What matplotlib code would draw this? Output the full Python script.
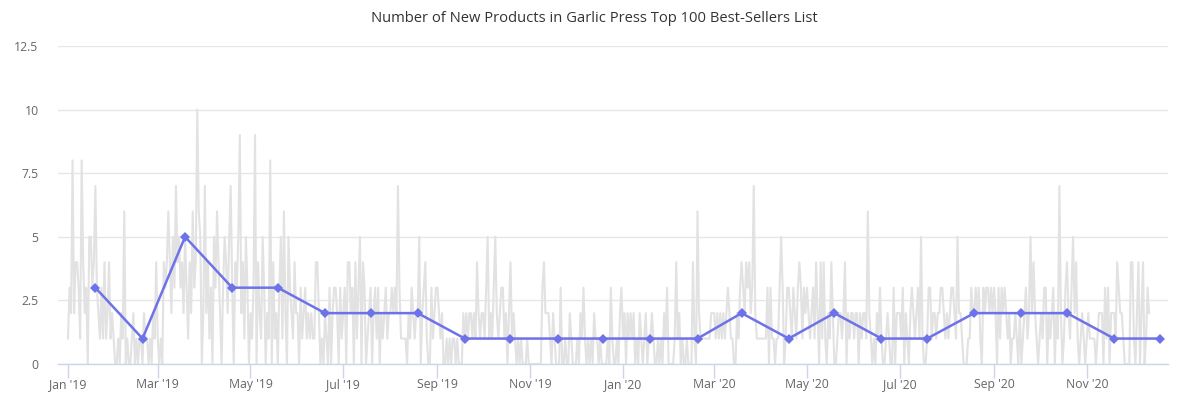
import datetime as dt
import matplotlib
matplotlib.use("Agg")
import matplotlib.pyplot as plt
import matplotlib.dates as mdates

# ---------------- data ----------------
title = "Number of New Products in Garlic Press Top 100 Best-Sellers List"

daily_start = dt.date(2019, 1, 1)
daily_2019 = {
    "Jan": [1,3,2,8,2,4,4,3,1,8,4,2,3,0,5,5,3,4,7,3,2,1,3,1,4,1,2,4,1,2,1],
    "Feb": [0,0,1,0,2,1,6,0,1,0,0,1,2,0,1,0,1,1,0,2,1,1,0,1,0,2,1,4],
    "Mar": [1,0,1,0,4,3,4,6,4,2,5,3,7,4,5,3,4,2,5,3,1,4,2,6,3,4,10,6,5,0,2],
    "Apr": [7,2,4,1,3,0,5,3,6,4,2,0,3,5,4,2,5,7,3,0,4,3,5,9,2,4,1,5,3,0],
    "May": [2,1,3,9,0,4,2,1,5,3,0,2,1,8,0,4,1,2,0,3,5,1,6,2,0,5,3,2,1,4,2],
    "Jun": [2,0,3,1,2,3,1,2,1,2,1,1,4,4,2,0,1,0,2,1,0,3,0,2,3,3,2,0,3,1],
    "Jul": [2,3,0,4,4,2,3,0,4,1,3,5,0,4,3,0,1,2,3,0,2,3,1,3,0,2,1,2,3,1,2],
    "Aug": [2,3,2,3,2,7,3,1,1,1,1,0,2,1,3,2,1,2,2,5,0,2,3,4,1,0,0,3,1,2,3],
    "Sep": [3,2,1,2,0,0,1,0,1,0,1,1,0,1,0,0,0,2,1,2,1,2,2,1,2,1,4,2,1,2],
    "Oct": [2,1,3,5,1,2,1,3,5,2,1,2,3,3,1,2,0,2,4,1,2,1,0,1,0,1,0,0,0,1,0],
    "Nov": [0,0,0,0,0,0,0,0,3,4,2,2,2,1,0,2,1,0,0,0,3,0,0,1,0,0,2,1,0,0],
    "Dec": [0,1,0,2,1,3,1,0,1,0,1,0,2,1,1,0,1,0,0,0,0,1,0,3,1,0,0,1,0,2,3],
}
daily_2020 = {
    "Jan": [1,2,0,2,1,2,1,2,0,1,0,2,1,0,1,2,0,1,1,2,1,0,0,1,0,1,0,2,1,3,0],
    "Feb": [0,0,0,1,4,1,2,0,1,0,0,1,0,0,0,4,1,0,6,2,1,1,1,1,1,1,1,2,2],
    "Mar": [2,1,2,1,2,1,2,1,2,3,2,1,1,0,0,2,1,3,4,3,2,4,3,4,2,3,7,2,1,1,1],
    "Apr": [1,1,1,1,3,0,3,1,1,0,1,1,3,5,3,0,1,3,3,2,1,3,2,1,3,4,3,1,3,2],
    "May": [3,2,1,2,3,1,4,2,0,4,1,4,1,0,2,1,4,2,0,0,1,2,2,1,2,4,0,2,1,2,2],
    "Jun": [1,2,2,0,2,1,2,2,1,6,2,1,0,1,0,2,1,3,1,0,0,1,2,1,0,0,3,0,2,2],
    "Jul": [2,1,3,0,2,1,0,2,3,2,1,2,3,1,5,1,0,0,1,3,3,1,2,2,1,2,2,3,3,2,1],
    "Aug": [2,1,2,3,3,2,1,5,2,2,1,0,0,0,1,1,3,2,2,3,2,3,1,0,3,2,3,3,2,3,2],
    "Sep": [3,2,0,3,1,3,2,3,2,1,2,0,1,1,2,1,0,2,0,1,2,3,1,2,5,2,4,2,1,0],
    "Oct": [1,2,1,3,3,0,2,1,2,3,0,2,1,7,2,0,1,3,4,2,1,3,5,2,4,1,0,1,2,1,0],
    "Nov": [1,2,1,1,1,1,0,1,2,2,2,0,3,1,3,0,2,2,2,1,4,3,2,2,1,0,0,0,0,4],
    "Dec": [4,1,0,2,4,0,2,4,0,1,3,2],
}

monthly_labels = ["2019-01", "2019-02", "2019-03", "2019-04", "2019-05", "2019-06",
                  "2019-07", "2019-08", "2019-09", "2019-10", "2019-11", "2019-12",
                  "2020-01", "2020-02", "2020-03", "2020-04", "2020-05", "2020-06",
                  "2020-07", "2020-08", "2020-09", "2020-10", "2020-11", "2020-12"]
monthly_values = [3, 1, 5, 3, 3, 2, 2, 2, 1, 1, 1, 1,
                  1, 1, 2, 1, 2, 1, 1, 2, 2, 2, 1, 1]
monthly_day = 19

y_ticks = [0, 2.5, 5, 7.5, 10, 12.5]
y_tick_labels = ["0", "2.5", "5", "7.5", "10", "12.5"]
x_tick_months = ["2019-01", "2019-03", "2019-05", "2019-07", "2019-09", "2019-11",
                 "2020-01", "2020-03", "2020-05", "2020-07", "2020-09", "2020-11"]
x_tick_labels = ["Jan '19", "Mar '19", "May '19", "Jul '19", "Sep '19", "Nov '19",
                 "Jan '20", "Mar '20", "May '20", "Jul '20", "Sep '20", "Nov '20"]

# ---------------- build series ----------------
daily_values = []
for d in (daily_2019, daily_2020):
    for vals in d.values():
        daily_values.extend(vals)
daily_dates = [daily_start + dt.timedelta(days=i) for i in range(len(daily_values))]

def ym(s, day=1):
    y, m = s.split("-")
    return dt.date(int(y), int(m), day)

monthly_dates = [ym(s, monthly_day) for s in monthly_labels]
xtick_dates = [ym(s) for s in x_tick_months]

# ---------------- figure ----------------
plt.rcParams["font.family"] = ["Open Sans", "DejaVu Sans"]
W, H = 1180, 394
fig = plt.figure(figsize=(W / 100, H / 100), dpi=100)
L, R, T, B = 58, 1168, 46, 364
ax = fig.add_axes([L / W, (H - B) / H, (R - L) / W, (B - T) / H])

ax.plot(daily_dates, daily_values, color="#e2e2e2", lw=1.5, zorder=2)
ax.plot(monthly_dates, monthly_values, color="#6e72e9", lw=1.8, marker="D",
        markersize=5.5, markeredgewidth=0, zorder=3)

x0 = mdates.date2num(dt.date(2019, 1, 1))
x1 = mdates.date2num(dt.date(2020, 1, 1))
ppd = (623 - 68) / (x1 - x0)
ax.set_xlim(x0 - (68 - L) / ppd, x0 + (R - 68) / ppd)
ax.set_ylim(0, 12.5)

ax.set_yticks(y_ticks)
ax.set_yticklabels(y_tick_labels)
ax.set_xticks(xtick_dates)
ax.set_xticklabels(x_tick_labels)

ax.grid(axis="y", color="#e6e6e6", lw=1)
ax.set_axisbelow(True)
for s in ("top", "right", "left"):
    ax.spines[s].set_visible(False)
ax.spines["bottom"].set_color("#ccd6eb")
ax.spines["bottom"].set_linewidth(1)

ax.tick_params(axis="y", length=0, pad=14, labelsize=8.8, labelcolor="#666666")
ax.tick_params(axis="x", length=10, width=1, color="#ccd6eb", pad=0,
               labelsize=8.8, labelcolor="#666666")

fig.text(594 / W, 1 - 18 / H, title, ha="center", va="center",
         fontsize=10.6, color="#333333")

fig.savefig("out.png", dpi=100)
